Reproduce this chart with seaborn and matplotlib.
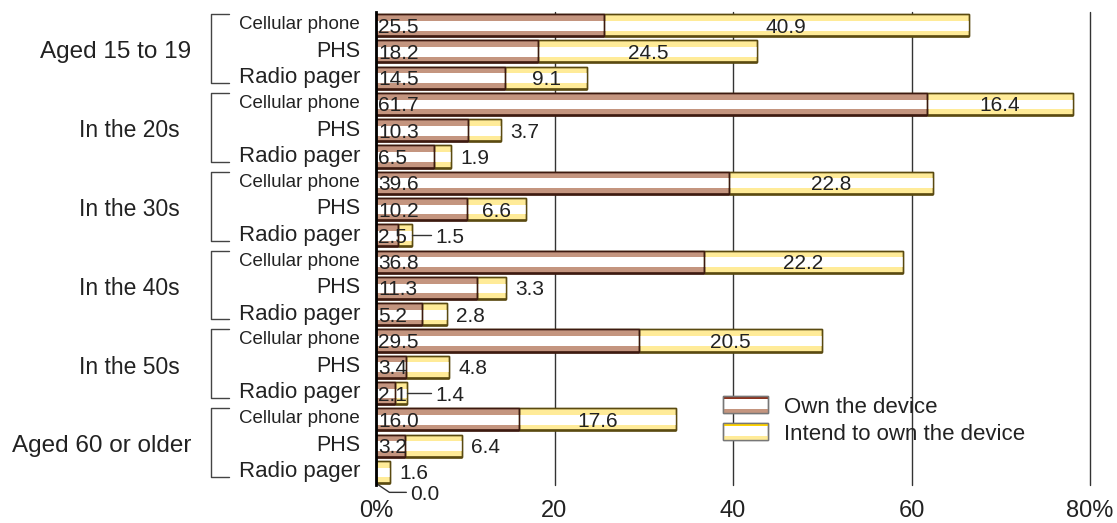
import numpy as np
import pandas as pd
import matplotlib
matplotlib.use("Agg")
import matplotlib.pyplot as plt
import matplotlib.font_manager as fm
import matplotlib.transforms as mtransforms
from matplotlib.patches import Rectangle
import seaborn as sns

# ---------------- data ----------------
groups = ["Aged 15 to 19", "In the 20s", "In the 30s", "In the 40s", "In the 50s", "Aged 60 or older"]
devices = ["Cellular phone", "PHS", "Radio pager"]
own = [25.5, 18.2, 14.5,
       61.7, 10.3, 6.5,
       39.6, 10.2, 2.5,
       36.8, 11.3, 5.2,
       29.5, 3.4, 2.1,
       16.0, 3.2, 0.0]
intend = [40.9, 24.5, 9.1,
          16.4, 3.7, 1.9,
          22.8, 6.6, 1.5,
          22.2, 3.3, 2.8,
          20.5, 4.8, 1.4,
          17.6, 6.4, 1.6]
series_names = ["Own the device", "Intend to own the device"]
x_ticks = [0, 20, 40, 60, 80]
x_ticklabels = ["0%", "20", "40", "60", "80%"]
# label placement for the "intend" values: inside, outside, or with a leader line
intend_pos = ["in", "in", "in", "in", "out", "out", "in", "in", "lead",
              "in", "out", "out", "in", "out", "lead", "in", "out", "out"]
own_pos = ["in"] * 17 + ["below"]

# ---------------- style ----------------
sns.set_theme(style="white")
names = {f.name for f in fm.fontManager.ttflist}
main_font = "Liberation Sans" if "Liberation Sans" in names else "DejaVu Sans"
plt.rcParams["font.family"] = [main_font, "DejaVu Sans"]

TXT = "#222222"
TAN = "#c4957f"
BROWN_EDGE = "#3d1a10"
YEL = "#ffeb98"
YEL_EDGE = "#5a4a10"
DEV_SIZE = {"Cellular phone": 13.5, "PHS": 15.5, "Radio pager": 16}

rows = [f"{g}|{d}" for g in groups for d in devices]
total = [o + i for o, i in zip(own, intend)]
df = pd.DataFrame({"row": rows, "own": own, "intend": intend, "total": total})
n = len(rows)
pos = np.arange(n)
H = 0.84

fig = plt.figure(figsize=(11.17, 5.23), dpi=100)
ax = fig.add_axes([376 / 1117, 1 - 485 / 523, 714 / 1117, 473 / 523])

# stacked bars: total (yellow) below, own (tan) on top
sns.barplot(data=df, x="total", y="row", orient="h", color=YEL, saturation=1,
            width=H, edgecolor=YEL_EDGE, linewidth=1.0, ax=ax, zorder=2)
sns.barplot(data=df, x="own", y="row", orient="h", color=TAN, saturation=1,
            width=H, edgecolor=BROWN_EDGE, linewidth=1.0, ax=ax, zorder=3)

# white centre stripe
ax.barh(pos + 0.02, df["intend"], left=df["own"], height=H * 0.44, color="white",
        linewidth=0, zorder=4)
ax.barh(pos + 0.02, df["own"], height=H * 0.44, color="white", linewidth=0, zorder=4)
# outlines back on top
ax.barh(pos, df["intend"], left=df["own"], height=H, fill=False,
        edgecolor=YEL_EDGE, linewidth=1.0, zorder=5)
ax.barh(pos, df["own"], height=H, fill=False, edgecolor=BROWN_EDGE, linewidth=1.0, zorder=6)
# darker bottom edge
ax.hlines(pos + H / 2, df["own"], df["total"], color=YEL_EDGE, linewidth=1.8, zorder=5)
ax.hlines(pos + H / 2, 0, df["own"], color=BROWN_EDGE, linewidth=1.8, zorder=6)

ax.set_xlim(0, 80)
ax.set_ylim(n - 0.5, -0.5)

# value labels
for k in range(n):
    o, i, t = own[k], intend[k], total[k]
    if own_pos[k] == "in":
        ax.text(0.25, k, f"{o:.1f}", ha="left", va="center_baseline", fontsize=15,
                color=TXT, zorder=8)
    else:
        ax.plot([0.15, 1.5, 3.4], [k + H / 2 + 0.05, k + 0.78, k + 0.78], color="#333333",
                lw=1, clip_on=False, zorder=8)
        ax.text(3.8, k + 0.78, f"{o:.1f}", ha="left", va="center_baseline", fontsize=15,
                color=TXT, clip_on=False)
    mode = intend_pos[k]
    if mode == "in":
        ax.text(o + i / 2, k, f"{i:.1f}", ha="center", va="center_baseline", fontsize=15,
                color=TXT, zorder=8)
    elif mode == "out":
        ax.text(t + 1.0, k, f"{i:.1f}", ha="left", va="center_baseline", fontsize=15,
                color=TXT, zorder=8)
    else:
        ax.plot([t, 6.2], [k, k], color="#333333", lw=1, zorder=8)
        ax.text(6.6, k, f"{i:.1f}", ha="left", va="center_baseline", fontsize=15,
                color=TXT, zorder=8)

# axes cosmetics
ax.set_yticks([])
ax.set_ylabel("")
ax.set_xlabel("")
ax.set_xticks(x_ticks)
ax.set_xticklabels(x_ticklabels, fontsize=17, color=TXT)
ax.tick_params(axis="x", length=0, pad=11)
ax.grid(axis="x", color="#333333", linewidth=1.0, zorder=0)
for gl in ax.get_xgridlines():
    gl.set_clip_on(False)
ax.set_axisbelow(True)
for s in ["top", "right", "bottom"]:
    ax.spines[s].set_visible(False)
ax.spines["left"].set_color("black")
ax.spines["left"].set_linewidth(2.0)
ax.spines["left"].set_zorder(9)

# category labels, brackets and group labels
bt = mtransforms.blended_transform_factory(ax.transAxes, ax.transData)
for gi, g in enumerate(groups):
    base = gi * 3
    for di, d in enumerate(devices):
        ax.text(-0.0224, base + di - 0.1, d, ha="right", va="center_baseline",
                fontsize=DEV_SIZE[d], color=TXT, transform=bt)
    ax.plot([-0.206, -0.231, -0.231, -0.206],
            [base - 0.42, base - 0.42, base + 2.2, base + 2.2],
            color="#444444", lw=1, transform=bt, clip_on=False)
    aged = g.startswith("Aged")
    xr = -0.259 if aged else -0.2745
    ax.text(xr, base + 0.92, g, ha="right", va="center_baseline",
            fontsize=17.5 if aged else 16.5, color=TXT, transform=bt)

# legend (drawn manually to reproduce the striped swatches)
def swatch(x0, y0, w, h, top_col, bot_col):
    ax.add_patch(Rectangle((x0, y0), w, h, facecolor="white", edgecolor="#777777",
                           lw=1, transform=ax.transAxes, zorder=10, clip_on=False))
    ax.add_patch(Rectangle((x0, y0 + h * 0.80), w, h * 0.20, facecolor=top_col,
                           lw=0, transform=ax.transAxes, zorder=11, clip_on=False))
    ax.add_patch(Rectangle((x0, y0), w, h * 0.25, facecolor=bot_col,
                           lw=0, transform=ax.transAxes, zorder=11, clip_on=False))
    ax.add_patch(Rectangle((x0, y0), w, h, facecolor="none", edgecolor="#777777",
                           lw=1, transform=ax.transAxes, zorder=12, clip_on=False))

lx, lw_, lh = 0.486, 0.063, 0.036
swatch(lx, 0.152, lw_, lh, "#8b3520", TAN)
swatch(lx, 0.095, lw_, lh, "#ffd400", YEL)
ax.text(0.571, 0.170, series_names[0], transform=ax.transAxes, ha="left",
        va="center_baseline", fontsize=16, color=TXT, zorder=12)
ax.text(0.571, 0.113, series_names[1], transform=ax.transAxes, ha="left",
        va="center_baseline", fontsize=16, color=TXT, zorder=12)

fig.savefig("out.png", dpi=100, facecolor="white")
